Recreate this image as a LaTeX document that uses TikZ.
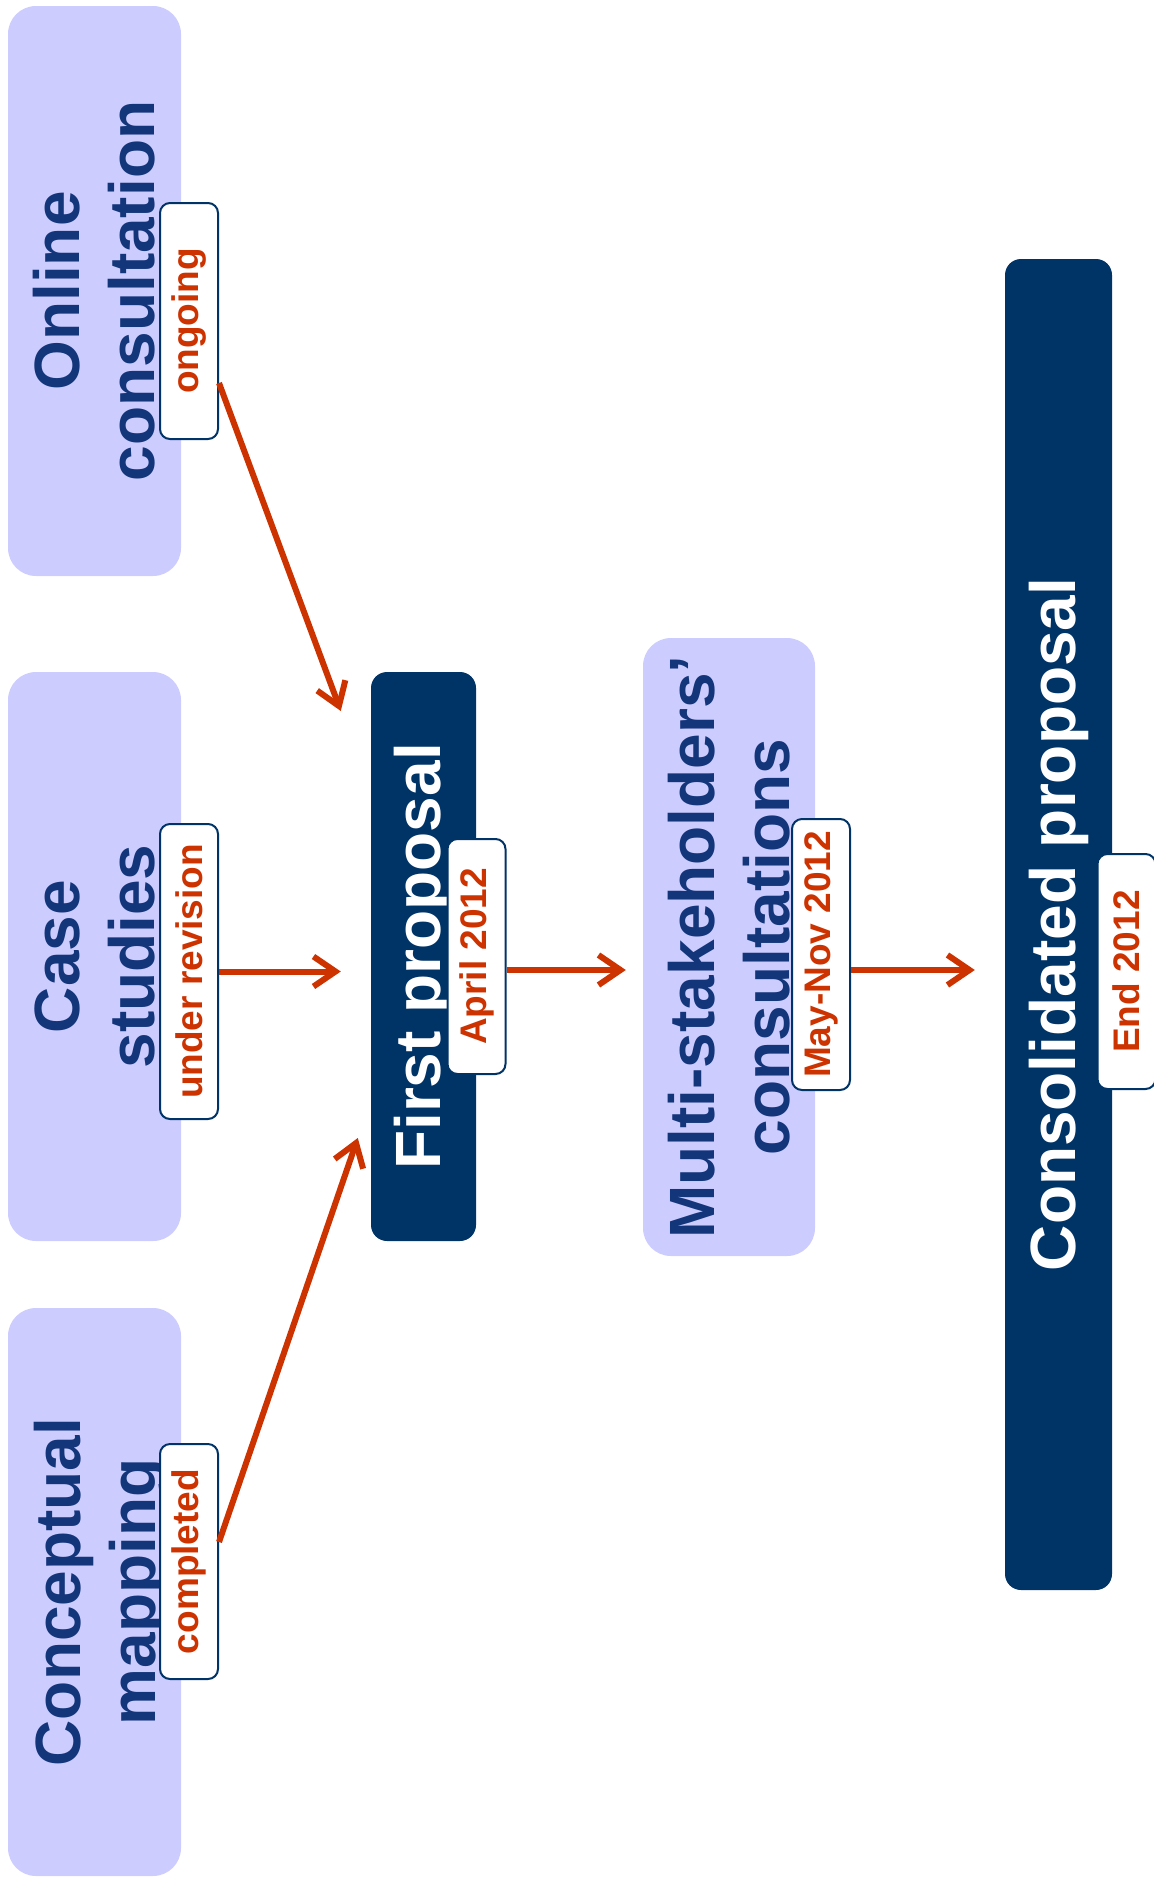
\documentclass[tikz,border=0pt]{standalone}
\usepackage{fontspec}
\setmainfont{Liberation Sans}
\usetikzlibrary{arrows.meta,calc}
\definecolor{boxblue}{HTML}{CCCCFF}
\definecolor{navy}{HTML}{003366}
\definecolor{inkblue}{HTML}{13357A}
\definecolor{rust}{HTML}{CC3300}
\newcommand\bigfont{\fontsize{64}{75}\selectfont\bfseries}
\newcommand\tagfont{\fontsize{37}{44}\selectfont\bfseries}
\begin{document}
\begin{tikzpicture}[x=1pt,y=-1pt,
  lightbox/.style={rectangle, rounded corners=28pt, fill=boxblue, text=inkblue,
    rotate=90, align=center, font=\bigfont, inner sep=0pt},
  darkbox/.style={rectangle, rounded corners=16pt, fill=navy, text=white,
    rotate=90, align=center, font=\bigfont, inner sep=0pt},
  tagbox/.style={rectangle, rounded corners=10pt, fill=white, draw=navy, line width=2pt,
    text=rust, rotate=90, font=\tagfont, inner sep=0pt, minimum height=58pt},
  flow/.style={draw=rust, line width=6pt, -{Straight Barb[length=22pt,width=30pt]}}]
\useasboundingbox (0,0) rectangle (1154,1888);

% input activities (light boxes)
\node[lightbox, minimum width=570pt, minimum height=173pt] (online) at (94.5,291)
  {Online\\consultation};
\node[lightbox, minimum width=569pt, minimum height=173pt] (case) at (94.5,956.5)
  {Case\\studies};
\node[lightbox, minimum width=568pt, minimum height=173pt] (concept) at (94.5,1592)
  {Conceptual\\\raisebox{0pt}[\height][0pt]{mapping}};
\node[lightbox, minimum width=618pt, minimum height=172pt] (multi) at (729,947)
  {Multi-stakeholders’\\consultations};

% proposals (dark boxes)
\node[darkbox, minimum width=569pt, minimum height=105pt] (first) at (423.5,956.5)
  {First proposal};
\node[darkbox, minimum width=1331pt, minimum height=107pt] (consol) at (1058.5,924.5)
  {Consolidated proposal};

% status tags
\node[tagbox, minimum width=236pt] (ongoing) at (189,321) {ongoing};
\node[tagbox, minimum width=295pt] (underrev) at (189,971.5) {under revision};
\node[tagbox, minimum width=235pt] (completed) at (189,1561.5) {completed};
\node[tagbox, minimum width=235pt] (april) at (476.5,956.5) {April 2012};
\node[tagbox, minimum width=271pt] (maynov) at (821,954.5) {May-Nov 2012};
\node[tagbox, minimum width=235pt] (endyear) at (1126.5,971.5) {End 2012};

% connectors
\draw[flow] ($(ongoing.south)+(0,62)$) -- ($(first.north)+(-30,-245.5)$);
\draw[flow] (underrev.south) -- ($(underrev.south -| first.north)+(-30,0)$);
\draw[flow] ($(completed.south)+(0,-19.5)$) -- ($(first.north)+(-13,181.5)$);
\draw[flow] ($(april.south)+(0,13.5)$) -- ($(april.south -| multi.north)+(-17,13.5)$);
\draw[flow] ($(maynov.south)+(0,15.5)$) -- ($(maynov.south -| consol.north)+(-30,15.5)$);
\end{tikzpicture}
\end{document}
